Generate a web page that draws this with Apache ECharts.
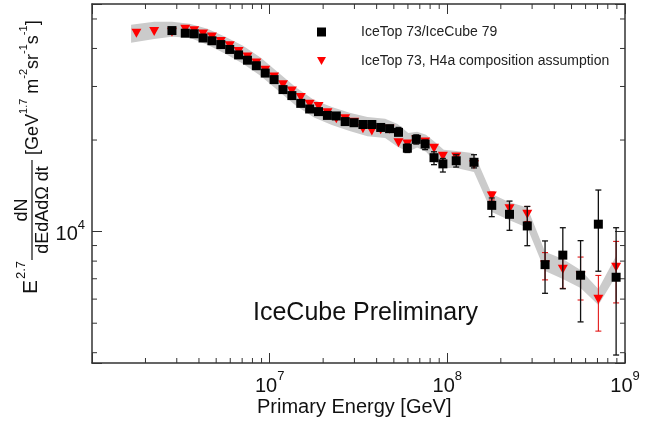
<!DOCTYPE html>
<html>
<head>
<meta charset="utf-8">
<script src="https://cdn.jsdelivr.net/npm/echarts@6/dist/echarts.min.js"></script>
<style>
html, body { margin: 0; padding: 0; background: #fff; }
#chart { width: 664px; height: 425px; }
</style>
</head>
<body>
<div id="chart"></div>
<script>
// log10(E / GeV) bin centres and E^2.7 flux values
const logE79 = [6.45, 6.525, 6.575, 6.625, 6.675, 6.725, 6.775, 6.825, 6.875, 6.925, 6.975, 7.025, 7.075, 7.125, 7.175, 7.225, 7.275, 7.325, 7.375, 7.425, 7.475, 7.525, 7.575, 7.625, 7.675, 7.725, 7.775, 7.825, 7.875, 7.925, 7.975, 8.05, 8.15, 8.25, 8.35, 8.45, 8.55, 8.65, 8.75, 8.85, 8.95];
const flux79 = [45800, 44900, 44700, 43300, 42400, 41200, 39700, 38100, 36600, 35100, 33200, 31600, 29300, 28000, 26400, 25300, 24800, 24100, 24000, 23000, 22800, 22500, 22500, 22000, 21800, 21200, 18800, 20100, 19400, 17500, 16700, 17100, 16900, 12200, 11400, 10440, 7790, 8370, 7190, 10580, 7080];
const err79Hi = [null, null, null, null, null, null, null, null, null, null, null, null, null, null, null, null, null, null, null, null, null, null, null, null, null, 22000, 19400, 20800, 20000, 18300, 17400, 17900, 17900, 12900, 12600, 12100, 9320, 10300, 9340, 13700, 10300];
const err79Lo = [null, null, null, null, null, null, null, null, null, null, null, null, null, null, null, null, null, null, null, null, null, null, null, null, null, 20700, 18200, 19400, 18600, 16600, 15700, 16300, 16200, 11200, 10100, 8990, 6270, 6490, 5050, 7410, 3930];

const logEH4a = [6.25, 6.35, 6.45, 6.525, 6.575, 6.625, 6.675, 6.725, 6.775, 6.825, 6.875, 6.925, 6.975, 7.025, 7.075, 7.125, 7.175, 7.225, 7.275, 7.325, 7.375, 7.425, 7.475, 7.525, 7.575, 7.625, 7.675, 7.725, 7.775, 7.825, 7.875, 7.925, 7.975, 8.05, 8.15, 8.25, 8.35, 8.45, 8.55, 8.65, 8.75, 8.85, 8.95];
const fluxH4a = [44900, 45500, 45200, 46300, 45700, 44600, 43600, 42200, 40800, 39100, 37500, 35800, 33900, 32200, 30400, 29000, 27600, 26200, 25800, 24600, 23500, 23500, 22900, 21800, 21400, 21600, 21700, 19600, 19400, 20000, 19700, 18800, 17700, 17600, 16600, 13100, 11900, 11400, 7770, 7520, 7150, 5990, 7640];
const errH4aHi = [null, null, null, null, null, null, null, null, null, null, null, null, null, null, null, null, null, null, null, null, null, null, null, null, null, null, null, null, null, null, null, null, null, null, null, 13500, 12100, 12100, 8530, 8240, 8250, 7180, 9290];
const errH4aLo = [null, null, null, null, null, null, null, null, null, null, null, null, null, null, null, null, null, null, null, null, null, null, null, null, null, null, null, null, null, null, null, null, null, null, null, 12700, 11200, 10800, 6940, 6510, 5960, 4710, 5830];

// systematic band (grey)
const bandLogE = [6.22, 6.35, 6.45, 6.55, 6.65, 6.75, 6.85, 6.95, 7.05, 7.15, 7.25, 7.35, 7.45, 7.55, 7.65, 7.72, 7.78, 7.83, 7.88, 7.93, 7.98, 8.05, 8.15, 8.25, 8.35, 8.45, 8.55, 8.65, 8.75, 8.85, 8.95];
const bandHi = [47900, 49000, 49000, 48200, 46400, 43700, 40800, 37300, 33300, 29700, 27100, 25700, 24600, 23800, 23500, 22600, 21100, 21300, 20800, 19700, 18600, 18400, 18100, 13300, 12500, 12000, 8580, 8130, 7480, 6480, 8320];
const bandLo = [41800, 43000, 43700, 43400, 41100, 38400, 35600, 32500, 29000, 25900, 23700, 22400, 21400, 20600, 20300, 19000, 18300, 18900, 18300, 17000, 16200, 16200, 15700, 11600, 10900, 10300, 7420, 6990, 6530, 5740, 7150];

// axes
const xRange = [1e6, 1e9];
const yRange = [3700, 56000];
const xMinorTicks = [2e6, 3e6, 4e6, 5e6, 6e6, 7e6, 8e6, 9e6, 2e7, 3e7, 4e7, 5e7, 6e7, 7e7, 8e7, 9e7, 2e8, 3e8, 4e8, 5e8, 6e8, 7e8, 8e8, 9e8];
const yMinorTicks = [4000, 5000, 6000, 7000, 8000, 9000, 20000, 30000, 40000, 50000];

const name79 = "IceTop 73/IceCube 79";
const nameH4a = "IceTop 73, H4a composition assumption";

const FONT = "Liberation Sans, Arial, sans-serif";
const AXIS_COLOR = "#333";

const chart = echarts.init(document.getElementById("chart"));

// label exact powers of ten only, skipping the left edge of the x axis
const powLabel = skipBelow => v => {
    const e = Math.log10(v);
    if (Math.abs(e - Math.round(e)) > 1e-6 || v <= skipBelow) return "";
    return "{b|10}{s|" + Math.round(e) + "}";
};
const powRich = {
    b: { fontFamily: FONT, fontSize: 20, color: "#111", lineHeight: 26, verticalAlign: "bottom" },
    s: { fontFamily: FONT, fontSize: 13, color: "#111", lineHeight: 13, verticalAlign: "top" }
};

const baseAxis = {
    type: "log",
    logBase: 10,
    axisLine: { lineStyle: { color: AXIS_COLOR, width: 1.5 } },
    axisTick: { inside: true, length: 10, lineStyle: { color: AXIS_COLOR, width: 1 } },
    splitLine: { show: false }
};

// error bars with small caps
const errorBars = (color, width) => (params, api) => {
    const x = api.value(0);
    const top = api.coord([x, api.value(2)]);
    const bot = api.coord([x, api.value(1)]);
    const style = { stroke: color, lineWidth: width };
    return {
        type: "group",
        children: [
            { type: "line", shape: { x1: top[0], y1: top[1], x2: bot[0], y2: bot[1] }, style },
            { type: "line", shape: { x1: top[0] - 3, y1: top[1], x2: top[0] + 3, y2: top[1] }, style },
            { type: "line", shape: { x1: bot[0] - 3, y1: bot[1], x2: bot[0] + 3, y2: bot[1] }, style }
        ]
    };
};

const barData = (logE, lo, hi) =>
    logE.map((x, i) => [Math.pow(10, x), lo[i], hi[i]]).filter(d => d[1] != null);

const options = {
    animation: false,
    backgroundColor: "#fff",
    grid: { left: 92, right: 39, top: 4, bottom: 62 },
    legend: {
        orient: "vertical",
        left: 312,
        top: 20,
        itemGap: 15,
        itemWidth: 9,
        itemHeight: 9,
        selectedMode: false,
        data: [
            { name: name79, icon: "rect" },
            { name: nameH4a, icon: "path://M0,0L10,0L5,9Z" }
        ],
        textStyle: { fontFamily: FONT, fontSize: 14, color: "#222", padding: [0, 0, 0, 30] }
    },
    xAxis: [
        Object.assign({}, baseAxis, {
            min: xRange[0], max: xRange[1], position: "bottom",
            axisLabel: { margin: 7, formatter: powLabel(xRange[0] * 1.5), rich: powRich }
        }),
        Object.assign({}, baseAxis, {
            min: xRange[0], max: xRange[1], position: "top",
            axisLabel: { show: false }
        })
    ],
    yAxis: [
        Object.assign({}, baseAxis, {
            min: yRange[0], max: yRange[1], position: "left",
            axisLabel: { margin: 7, formatter: powLabel(0), rich: powRich }
        }),
        Object.assign({}, baseAxis, {
            min: yRange[0], max: yRange[1], position: "right",
            axisLabel: { show: false }
        })
    ],
    graphic: [
        {
            type: "text", left: 253, top: 301,
            style: { text: "IceCube Preliminary", fontFamily: FONT, fontSize: 25, fill: "#111" }
        },
        {
            type: "text", left: 257, top: 397,
            style: { text: "Primary Energy [GeV]", fontFamily: FONT, fontSize: 20, fill: "#111" }
        },
        {
            type: "group", x: 0, y: 295, rotation: Math.PI / 2,
            children: [
                { type: "text", x: 1, y: 31, style: { text: "E", fontFamily: FONT, fontSize: 21, fill: "#111", verticalAlign: "middle" } },
                { type: "text", x: 16, y: 21, style: { text: "2.7", fontFamily: FONT, fontSize: 13, fill: "#111", verticalAlign: "middle" } },
                { type: "line", shape: { x1: 35, y1: 32, x2: 135, y2: 32 }, style: { stroke: "#111", lineWidth: 1.2 } },
                { type: "text", x: 85, y: 22, style: { text: "dN", fontFamily: FONT, fontSize: 18, fill: "#111", align: "center", verticalAlign: "middle" } },
                { type: "text", x: 85, y: 43, style: { text: "dEdAdΩ dt", fontFamily: FONT, fontSize: 18, fill: "#111", align: "center", verticalAlign: "middle" } },
                {
                    type: "text", x: 140, y: 30,
                    style: {
                        text: "{n|[GeV}{s|1.7}{n| m}{s|-2}{n|sr}{s|-1}{n|s}{s|-1}{n|]}",
                        verticalAlign: "middle",
                        rich: {
                            n: { fontFamily: FONT, fontSize: 18, fill: "#111", lineHeight: 24, verticalAlign: "bottom" },
                            s: { fontFamily: FONT, fontSize: 11, fill: "#111", lineHeight: 11, verticalAlign: "top" }
                        }
                    }
                }
            ]
        }
    ],
    series: [
        {
            // grey systematic band, drawn once as a polygon
            type: "custom",
            silent: true,
            renderItem: (params, api) => {
                if (params.dataIndex !== 0) return;
                const pts = [];
                bandLogE.forEach((x, i) => pts.push(api.coord([Math.pow(10, x), bandHi[i]])));
                for (let i = bandLogE.length - 1; i >= 0; i--) pts.push(api.coord([Math.pow(10, bandLogE[i]), bandLo[i]]));
                return { type: "polygon", shape: { points: pts }, style: { fill: "#cbcbcb" } };
            },
            data: [[Math.pow(10, bandLogE[0]), bandHi[0]]],
            z: 1
        },
        {
            // minor ticks on bottom and top
            type: "custom",
            silent: true,
            renderItem: (params, api) => {
                const v = api.value(0);
                const b = api.coord([v, yRange[0]]);
                const t = api.coord([v, yRange[1]]);
                const style = { stroke: AXIS_COLOR, lineWidth: 1 };
                return {
                    type: "group",
                    children: [
                        { type: "line", shape: { x1: b[0], y1: b[1], x2: b[0], y2: b[1] - 5 }, style },
                        { type: "line", shape: { x1: t[0], y1: t[1], x2: t[0], y2: t[1] + 5 }, style }
                    ]
                };
            },
            data: xMinorTicks.map(v => [v, yRange[0]]),
            z: 5
        },
        {
            // minor ticks on left and right
            type: "custom",
            silent: true,
            renderItem: (params, api) => {
                const v = api.value(1);
                const l = api.coord([xRange[0], v]);
                const r = api.coord([xRange[1], v]);
                const style = { stroke: AXIS_COLOR, lineWidth: 1 };
                return {
                    type: "group",
                    children: [
                        { type: "line", shape: { x1: l[0], y1: l[1], x2: l[0] + 5, y2: l[1] }, style },
                        { type: "line", shape: { x1: r[0], y1: r[1], x2: r[0] - 5, y2: r[1] }, style }
                    ]
                };
            },
            data: yMinorTicks.map(v => [xRange[0], v]),
            z: 5
        },
        {
            type: "custom",
            silent: true,
            renderItem: errorBars("#e00000", 1),
            data: barData(logEH4a, errH4aLo, errH4aHi),
            z: 2
        },
        {
            name: nameH4a,
            type: "scatter",
            symbol: "triangle",
            symbolRotate: 180,
            symbolSize: [10, 9],
            itemStyle: { color: "#ff0000", opacity: 1 },
            data: logEH4a.map((x, i) => [Math.pow(10, x), fluxH4a[i]]),
            z: 3
        },
        {
            type: "custom",
            silent: true,
            renderItem: errorBars("#111", 1.3),
            data: barData(logE79, err79Lo, err79Hi),
            z: 4
        },
        {
            name: name79,
            type: "scatter",
            symbol: "rect",
            symbolSize: 9,
            itemStyle: { color: "#000", opacity: 1 },
            data: logE79.map((x, i) => [Math.pow(10, x), flux79[i]]),
            z: 5
        }
    ]
};

chart.setOption(options);
</script>
</body>
</html>
